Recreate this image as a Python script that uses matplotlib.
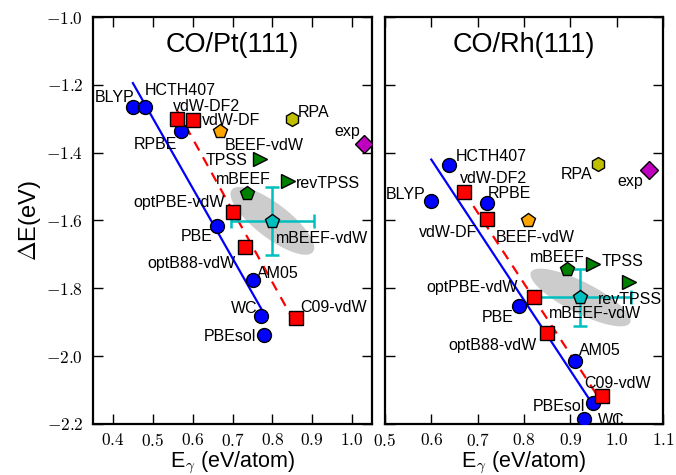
import numpy as np
import matplotlib
matplotlib.use("Agg")
import matplotlib.pyplot as plt

plt.rcParams['font.family'] = ['Liberation Sans', 'DejaVu Sans']
plt.rcParams['mathtext.fontset'] = 'cm'

# ---- data -------------------------------------------------------------
pt_methods = ['BLYP', 'HCTH407', 'RPBE', 'PBE', 'AM05', 'WC', 'PBEsol',
              'vdW-DF2', 'vdW-DF', 'optPBE-vdW', 'optB88-vdW', 'C09-vdW',
              'BEEF-vdW', 'mBEEF', 'mBEEF-vdW', 'TPSS', 'revTPSS', 'RPA', 'exp']
pt_egamma = [0.450, 0.481, 0.570, 0.660, 0.752, 0.771, 0.779,
             0.561, 0.600, 0.700, 0.731, 0.859,
             0.669, 0.736, 0.800, 0.768, 0.838, 0.849, 1.030]
pt_dE = [-1.265, -1.265, -1.335, -1.617, -1.774, -1.882, -1.938,
         -1.302, -1.304, -1.576, -1.679, -1.887,
         -1.336, -1.518, -1.601, -1.420, -1.484, -1.301, -1.373]

rh_methods = ['BLYP', 'HCTH407', 'RPBE', 'PBE', 'AM05', 'WC', 'PBEsol',
              'vdW-DF2', 'vdW-DF', 'optPBE-vdW', 'optB88-vdW', 'C09-vdW',
              'BEEF-vdW', 'mBEEF', 'mBEEF-vdW', 'TPSS', 'revTPSS', 'RPA', 'exp']
rh_egamma = [0.600, 0.639, 0.720, 0.790, 0.910, 0.930, 0.948,
             0.670, 0.720, 0.821, 0.849, 0.969,
             0.808, 0.892, 0.922, 0.950, 1.027, 0.959, 1.069]
rh_dE = [-1.542, -1.435, -1.548, -1.853, -2.014, -2.184, -2.137,
         -1.515, -1.597, -1.827, -1.931, -2.117,
         -1.599, -1.743, -1.827, -1.727, -1.781, -1.432, -1.452]

# BEEF ensemble spread for mBEEF-vdW: (sigma_x, sigma_y, correlation)
pt_ensemble = (0.105, 0.100, -0.79)
rh_ensemble = (0.108, 0.085, -0.80)

gga_methods = ['BLYP', 'HCTH407', 'RPBE', 'PBE', 'AM05', 'WC', 'PBEsol']
vdw_methods = ['vdW-DF2', 'vdW-DF', 'optPBE-vdW', 'optB88-vdW', 'C09-vdW']

titles = ['CO/Pt(111)', 'CO/Rh(111)']
pt_xticks = [0.4, 0.5, 0.6, 0.7, 0.8, 0.9, 1.0]
rh_xticks = [0.5, 0.6, 0.7, 0.8, 0.9, 1.0, 1.1]
yticks = [-1.0, -1.2, -1.4, -1.6, -1.8, -2.0, -2.2]

# ---- styles -----------------------------------------------------------
def style_for(name):
    if name in gga_methods:
        return dict(marker='o', color='b', ms=10)
    if name in vdw_methods:
        return dict(marker='s', color='r', ms=10.5)
    return {
        'BEEF-vdW': dict(marker='p', color='orange', ms=10.5),
        'mBEEF': dict(marker='p', color='g', ms=10.5),
        'mBEEF-vdW': dict(marker='p', color='c', ms=10.5),
        'TPSS': dict(marker='>', color='g', ms=9.5),
        'revTPSS': dict(marker='>', color='g', ms=9.5),
        'RPA': dict(marker='h', color='y', ms=10),
        'exp': dict(marker='D', color='m', ms=9),
    }[name]

# label offsets in pixels (dx, dy up, horizontal alignment)
pt_offsets = {
    'BLYP': (2, 11, 'right'), 'HCTH407': (0, 18, 'left'),
    'vdW-DF2': (-4, 14, 'left'), 'vdW-DF': (9, 1, 'left'),
    'RPBE': (-4, -12, 'right'), 'BEEF-vdW': (5, -13, 'left'),
    'RPA': (6, 8, 'left'), 'exp': (-4, 14, 'right'),
    'TPSS': (-12, 0, 'right'), 'revTPSS': (8, -1, 'left'),
    'mBEEF': (-3, 15, 'center'), 'optPBE-vdW': (-8, 11, 'right'),
    'mBEEF-vdW': (4, -16, 'left'), 'PBE': (-4, -9, 'right'),
    'optB88-vdW': (-9, -15, 'right'), 'AM05': (4, 8, 'left'),
    'WC': (-3, 9, 'right'), 'PBEsol': (-8, 0, 'right'),
    'C09-vdW': (4, 12, 'left'),
}
rh_offsets = {
    'HCTH407': (6, 10, 'left'), 'vdW-DF2': (-4, 15, 'left'),
    'BLYP': (-6, 8, 'right'), 'RPBE': (1, 11, 'left'),
    'RPA': (-5, -9, 'right'), 'exp': (-5, -10, 'right'),
    'vdW-DF': (-10, -12, 'right'), 'BEEF-vdW': (-32, -16, 'left'),
    'mBEEF': (-9, 13, 'center'), 'TPSS': (8, 4, 'left'),
    'revTPSS': (-31, -16, 'left'), 'optPBE-vdW': (-16, 11, 'right'),
    'mBEEF-vdW': (-32, -15, 'left'), 'PBE': (-6, -10, 'right'),
    'optB88-vdW': (-10, -11, 'right'), 'AM05': (4, 12, 'left'),
    'C09-vdW': (-18, 14, 'left'), 'PBEsol': (-7, -2, 'right'),
    'WC': (14, 0, 'left'),
}

fig = plt.figure(figsize=(6.76, 4.75), dpi=100)
ax_pt = fig.add_axes([0.1376, 0.1074, 0.4127, 0.8568])
ax_rh = fig.add_axes([0.5695, 0.1074, 0.4112, 0.8568])

panels = [
    (ax_pt, pt_methods, pt_egamma, pt_dE, pt_ensemble, pt_offsets, pt_xticks, (0.35, 1.05)),
    (ax_rh, rh_methods, rh_egamma, rh_dE, rh_ensemble, rh_offsets, rh_xticks, (0.5, 1.1)),
]

for i, (ax, names, xs, ys, ens, offs, xt, xlim) in enumerate(panels):
    xs = np.asarray(xs)
    ys = np.asarray(ys)
    idx = {n: k for k, n in enumerate(names)}

    # ensemble covariance ellipse and error bars for mBEEF-vdW
    k = idx['mBEEF-vdW']
    sx, sy, rho = ens
    t = np.linspace(0, 2 * np.pi, 200)
    ex = xs[k] + sx * np.cos(t)
    ey = ys[k] + sy * (rho * np.cos(t) + np.sqrt(1 - rho ** 2) * np.sin(t))
    ax.fill(ex, ey, color='0.8', lw=0, zorder=1)
    ax.errorbar(xs[k], ys[k], xerr=sx, yerr=sy, fmt='none', ecolor='c',
                elinewidth=1.8, capsize=5, capthick=1.8, zorder=3)

    # linear fits through GGA and vdW-DF type results
    for group, col, ls in [(gga_methods, 'b', '-'), (vdw_methods, 'r', '--')]:
        gi = [idx[n] for n in group]
        p = np.polyfit(xs[gi], ys[gi], 1)
        xl = np.array([xs[gi].min(), xs[gi].max()])
        line, = ax.plot(xl, np.polyval(p, xl), color=col, ls=ls, lw=1.6, zorder=2)
        if ls == '--':
            line.set_dashes((4.5, 3.5))

    for n in names:
        j = idx[n]
        st = style_for(n)
        ax.plot(xs[j], ys[j], ls='none', marker=st['marker'], ms=st['ms'],
                mfc=st['color'], mec='k', mew=1.0, zorder=4)
        dx, dy, ha = offs[n]
        ax.annotate(n, (xs[j], ys[j]), xytext=(dx, dy), textcoords='offset pixels',
                    ha=ha, va='center_baseline', fontsize=11.5, zorder=5)

    ax.text(0.5, 0.93, titles[i], transform=ax.transAxes, ha='center',
            va='center', fontsize=19.5)

    ax.set_xlim(*xlim)
    ax.set_ylim(-2.2, -1.0)
    ax.set_xticks(xt)
    ax.set_xticklabels([f'${v:.1f}$' for v in xt], fontsize=12.5)
    ax.set_yticks(yticks)
    if i == 0:
        ax.set_yticklabels([f'${v:.1f}$' for v in yticks], fontsize=12.5)
        ax.set_ylabel(r'$\Delta$E(eV)', fontsize=17, labelpad=2)
    else:
        ax.set_yticklabels([])
    ax.set_xlabel(r'E$_\gamma$ (eV/atom)', fontsize=15.5, labelpad=0.5)
    ax.tick_params(direction='in', length=7, width=1, top=True, right=True,
                   pad=7)
    ax.tick_params(axis='x', pad=5.5)
    for sp in ax.spines.values():
        sp.set_linewidth(1.6)

fig.savefig('out.png', dpi=100)
